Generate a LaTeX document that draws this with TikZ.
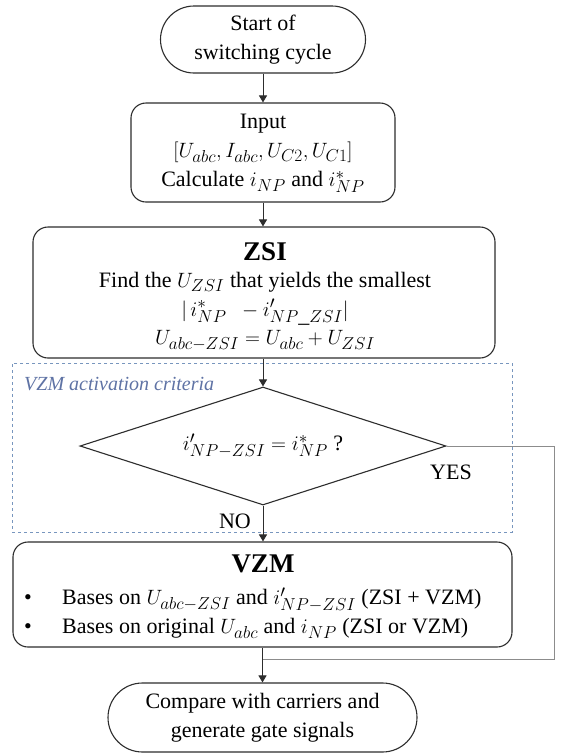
\documentclass[tikz,border=0pt]{standalone}
\usepackage{fontspec}
\setmainfont{Liberation Serif}
\DeclareMathSizes{22}{22.5}{16.5}{12}
\usetikzlibrary{shapes.misc,shapes.geometric,arrows.meta}
\definecolor{lin}{RGB}{45,45,45}
\definecolor{yesline}{RGB}{140,140,140}
\definecolor{critblue}{RGB}{120,150,190}
\definecolor{crittext}{RGB}{95,115,165}
\tikzset{
  base/.style={draw=lin, line width=1.1pt, align=center, inner sep=0pt,
    font=\fontsize{22}{28.5}\selectfont},
  term/.style={base, rounded rectangle},
  procbox/.style={base, rectangle, rounded corners=15pt},
  decbox/.style={base, diamond},
  arr/.style={draw=lin, line width=1pt, -{Triangle[width=8pt,length=7pt]}},
  yesarr/.style={draw=yesline, line width=1pt},
  lbl/.style={font=\fontsize{22}{29}\selectfont, inner sep=0pt, align=center},
  head/.style={font=\fontsize{27}{28}\selectfont\bfseries, inner sep=0pt}
}
\begin{document}
\begin{tikzpicture}[x=1pt,y=-1pt]
\useasboundingbox (0,0) rectangle (563,753);
\fill[white] (0,0) rectangle (563,753);

\node[draw=critblue, dashed, line width=1pt, minimum width=500pt, minimum height=169pt, inner sep=0pt] (crit) at (262,447.5) {};
\node[lbl, anchor=west, text=crittext, font=\fontsize{20}{22}\selectfont\itshape] (critlbl) at (24,384) {VZM activation criteria};

\node[term, minimum width=205pt, minimum height=67pt] (start) at (263,39.5) {Start of\\switching cycle};

\node[procbox, minimum width=264pt, minimum height=99pt] (input) at (263,152.5) {};
\node[lbl] (in1) at (263,124) {Input};
\node[lbl] (in2) at (263,152) {$[U_{abc}, I_{abc}, U_{C2}, U_{C1}]$};
\node[lbl] (in3) at (263,182) {Calculate $i_{NP}$ and $i^{*}_{NP}$};

\node[procbox, minimum width=462pt, minimum height=131pt] (zsi) at (264,292.5) {};
\node[head] (zsih) at (265,252) {ZSI};
\node[lbl] (zsi1) at (265,282) {Find the $U_{ZSI}$ that yields the smallest};
\node[lbl] (zsi2) at (265,312) {$|\,i^{*}_{NP}\ \ - i'_{NP\_ZSI}|$};
\node[lbl] (zsi3) at (265,341) {$U_{abc-ZSI} = U_{abc} + U_{ZSI}$};

\node[decbox, minimum width=366pt, minimum height=118pt, aspect=3.1] (dec) at (263,446)
  {$i'_{NP-ZSI} = i^{*}_{NP}$ ?};

\node[procbox, minimum width=499pt, minimum height=105pt] (vzm) at (262.5,594.5) {};
\node[head] (vzmh) at (263,564) {VZM};
\node[lbl, anchor=west, align=left] (vzmt) at (24,613)
  {\makebox[38pt][l]{\textbullet}Bases on $U_{abc-ZSI}$ and $i'_{NP-ZSI}$ (ZSI + VZM)\\
   \makebox[38pt][l]{\textbullet}Bases on original $U_{abc}$ and $i_{NP}$ (ZSI or VZM)};

\node[term, minimum width=309pt, minimum height=69pt] (finish) at (262.5,717.5)
  {Compare with carriers and\\generate gate signals};

\node[lbl] (yes) at (451,472) {YES};
\node[lbl] (no) at (235,521) {NO};

\coordinate (yc) at (554,659);
\coordinate (join) at (263,659);

\draw[arr] (start.south) -- (input.north);
\draw[arr] (input.south) -- (input.south |- zsi.north);
\draw[arr] (zsi.south -| dec.north) -- (dec.north);
\draw[arr] (dec.south) -- (dec.south |- vzm.north);
\draw[arr] (vzm.south -| finish.north) -- (finish.north);
\draw[yesarr] (dec.east) -| (yc) -- (join);
\end{tikzpicture}
\end{document}
